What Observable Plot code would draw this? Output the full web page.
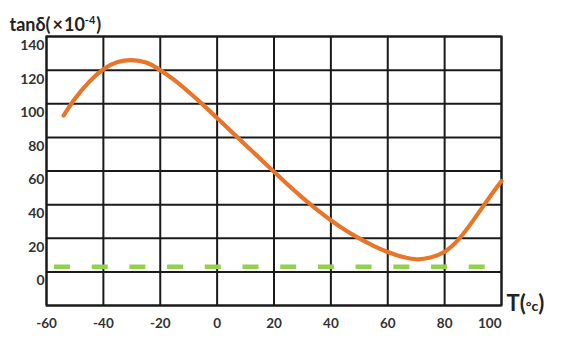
<!DOCTYPE html>
<html><head><meta charset="utf-8">
<script src="https://cdn.jsdelivr.net/npm/d3@7"></script>
<script src="https://cdn.jsdelivr.net/npm/@observablehq/plot@0.6"></script>
<style>body{margin:0;background:#fff}</style>
</head><body><div id="chart"></div>
<script>
// Data
const temps  = [-54, -50, -45, -40, -35, -30, -25, -20, -15, -10, -5, 0, 5, 10, 15, 20, 25, 30, 35, 40, 45, 50, 55, 60, 65, 70, 75, 80, 85, 90, 95, 100];
const tanDelta = [93, 103, 113, 120.5, 124.8, 126, 124.5, 120, 114, 107, 99.5, 91.5, 83.5, 75.5, 67.5, 59.5, 51.7, 44.2, 37.2, 30.7, 24.9, 19.9, 15.5, 11.8, 9, 7.5, 8.5, 12, 19.5, 30.5, 42.5, 54];
const refLevel = [3];
const xTicks = [-60, -40, -20, 0, 20, 40, 60, 80, 100];
const yTicks = [0, 20, 40, 60, 80, 100, 120, 140];
const yGrid  = [-20, 0, 20, 40, 60, 80, 100, 120, 140];
const titleText = "tanδ(×10⁻⁴)";
const xTitle = "T(°c)";

const data = temps.map((t, i) => ({T: t, v: tanDelta[i]}));
const gridStyle = {stroke: "#1a1a1a", strokeOpacity: 1, strokeWidth: 2};
const font = {fontFamily: "Lato, sans-serif", fontWeight: "bold"};

const chart = Plot.plot({
  width: 563, height: 338,
  marginLeft: 46, marginRight: 62, marginTop: 36, marginBottom: 33,
  style: {fontFamily: "Lato, sans-serif", background: "#fff"},
  x: {domain: [-60, 100], axis: null},
  y: {domain: [-20, 140], axis: null},
  marks: [
    Plot.gridX(xTicks, gridStyle),
    Plot.gridY(yGrid, gridStyle),
    Plot.frame({stroke: "#1a1a1a", strokeWidth: 2}),
    Plot.ruleY(refLevel, {stroke: "#92d050", strokeWidth: 4.5, strokeDasharray: "16,21.7", strokeDashoffset: 29.7}),
    Plot.line(data, {x: "T", y: "v", stroke: "#e8762a", strokeWidth: 4.2, curve: "natural"}),
    Plot.text(yTicks, {y: d => d, frameAnchor: "left", textAnchor: "end", dx: -2, dy: 9, text: d => String(d), fontSize: 14, fill: "#333", ...font}),
    Plot.text(xTicks.slice(0, -1), {x: d => d, frameAnchor: "bottom", dy: 22, text: d => String(d), fontSize: 13.5, fill: "#333", ...font}),
    Plot.text(xTicks.slice(-1), {x: d => d, frameAnchor: "bottom", textAnchor: "end", dy: 22, text: d => String(d), fontSize: 13.5, fill: "#333", ...font}),
    Plot.text([titleText], {frameAnchor: "top-left", textAnchor: "start", dx: -37, dy: -18, text: d => d, fontSize: 18, fill: "#222", ...font}),
    Plot.text([xTitle], {frameAnchor: "bottom-right", textAnchor: "start", dx: 5, dy: 5, text: d => d, fontSize: 22, fill: "#222", ...font})
  ]
});
document.getElementById("chart").appendChild(chart);

// Rich text: superscript and smaller degree sign
const svg = d3.select(chart);
svg.selectAll("text").each(function() {
  const el = d3.select(this);
  const t = this.textContent;
  if (t === titleText) {
    el.text(null);
    el.append("tspan").text("tanδ(");
    el.append("tspan").attr("dx", 2).text("×");
    el.append("tspan").attr("dx", 1).text("10");
    el.append("tspan").attr("dy", "-7").attr("font-size", 11).text("-4");
    el.append("tspan").attr("dy", "7").attr("dx", 1).text(")");
  } else if (t === xTitle) {
    el.text(null);
    el.append("tspan").text("T(");
    el.append("tspan").attr("font-size", 14).text("°c");
    el.append("tspan").text(")");
  }
});
</script>
</body></html>
